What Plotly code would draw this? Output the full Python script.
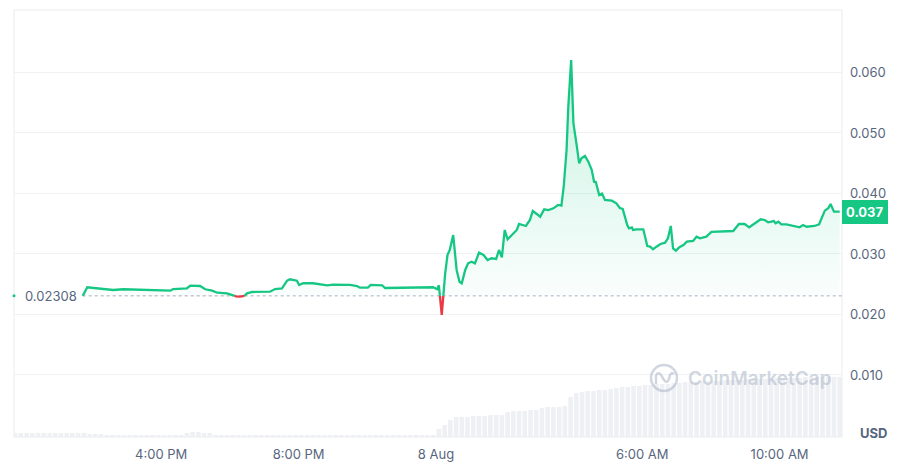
import numpy as np
import pandas as pd
import plotly.graph_objects as go

# ---------------- data ----------------
price_times = [
    "2024-08-07 13:43", "2024-08-07 13:51", "2024-08-07 14:36", "2024-08-07 14:54", "2024-08-07 16:16",
    "2024-08-07 16:21", "2024-08-07 16:45", "2024-08-07 16:51", "2024-08-07 17:08", "2024-08-07 17:17",
    "2024-08-07 17:29", "2024-08-07 17:38", "2024-08-07 17:55", "2024-08-07 18:06", "2024-08-07 18:11",
    "2024-08-07 18:18", "2024-08-07 18:25", "2024-08-07 18:30", "2024-08-07 18:39", "2024-08-07 18:53",
    "2024-08-07 19:10", "2024-08-07 19:19", "2024-08-07 19:31", "2024-08-07 19:40", "2024-08-07 19:45",
    "2024-08-07 19:57", "2024-08-07 20:01", "2024-08-07 20:08", "2024-08-07 20:25", "2024-08-07 20:50",
    "2024-08-07 21:00", "2024-08-07 21:30", "2024-08-07 21:42", "2024-08-07 21:47", "2024-08-07 22:01",
    "2024-08-07 22:06", "2024-08-07 22:26", "2024-08-07 22:31", "2024-08-07 22:52", "2024-08-07 23:55",
    "2024-08-08 00:02", "2024-08-08 00:05", "2024-08-08 00:10", "2024-08-08 00:16", "2024-08-08 00:20",
    "2024-08-08 00:24", "2024-08-08 00:30", "2024-08-08 00:36", "2024-08-08 00:41", "2024-08-08 00:45",
    "2024-08-08 00:51", "2024-08-08 00:56", "2024-08-08 01:02", "2024-08-08 01:08", "2024-08-08 01:15",
    "2024-08-08 01:23", "2024-08-08 01:30", "2024-08-08 01:37", "2024-08-08 01:45", "2024-08-08 01:50",
    "2024-08-08 01:55", "2024-08-08 02:00", "2024-08-08 02:05", "2024-08-08 02:12", "2024-08-08 02:21",
    "2024-08-08 02:25", "2024-08-08 02:32", "2024-08-08 02:37", "2024-08-08 02:44", "2024-08-08 02:49",
    "2024-08-08 02:56", "2024-08-08 03:02", "2024-08-08 03:09", "2024-08-08 03:16", "2024-08-08 03:25",
    "2024-08-08 03:33", "2024-08-08 03:39", "2024-08-08 03:43", "2024-08-08 03:48", "2024-08-08 03:51",
    "2024-08-08 03:56", "2024-08-08 04:00", "2024-08-08 04:06", "2024-08-08 04:10", "2024-08-08 04:14",
    "2024-08-08 04:20", "2024-08-08 04:26", "2024-08-08 04:32", "2024-08-08 04:36", "2024-08-08 04:39",
    "2024-08-08 04:45", "2024-08-08 04:50", "2024-08-08 04:55", "2024-08-08 05:07", "2024-08-08 05:15",
    "2024-08-08 05:21", "2024-08-08 05:26", "2024-08-08 05:34", "2024-08-08 05:37", "2024-08-08 05:42",
    "2024-08-08 05:44", "2024-08-08 05:50", "2024-08-08 06:02", "2024-08-08 06:09", "2024-08-08 06:14",
    "2024-08-08 06:19", "2024-08-08 06:25", "2024-08-08 06:32", "2024-08-08 06:40", "2024-08-08 06:45",
    "2024-08-08 06:50", "2024-08-08 06:54", "2024-08-08 06:59", "2024-08-08 07:05", "2024-08-08 07:12",
    "2024-08-08 07:18", "2024-08-08 07:29", "2024-08-08 07:35", "2024-08-08 07:41", "2024-08-08 07:52",
    "2024-08-08 08:01", "2024-08-08 08:21", "2024-08-08 08:39", "2024-08-08 08:49", "2024-08-08 08:59",
    "2024-08-08 09:07", "2024-08-08 09:17", "2024-08-08 09:27", "2024-08-08 09:34", "2024-08-08 09:40",
    "2024-08-08 09:50", "2024-08-08 09:53", "2024-08-08 09:58", "2024-08-08 10:03", "2024-08-08 10:12",
    "2024-08-08 10:30", "2024-08-08 10:35", "2024-08-08 10:41", "2024-08-08 10:47", "2024-08-08 11:01",
    "2024-08-08 11:09", "2024-08-08 11:19", "2024-08-08 11:25", "2024-08-08 11:29", "2024-08-08 11:35",
    "2024-08-08 11:45",
]
price_values = [
    0.02308, 0.02450, 0.02405, 0.02417, 0.02393,
    0.02421, 0.02433, 0.02476, 0.02471, 0.02417,
    0.02393, 0.02360, 0.02350, 0.02316, 0.02300,
    0.02295, 0.02305, 0.02350, 0.02372, 0.02372,
    0.02377, 0.02421, 0.02433, 0.02559, 0.02582,
    0.02559, 0.02488, 0.02516, 0.02516, 0.02483,
    0.02493, 0.02488, 0.02471, 0.02443, 0.02443,
    0.02488, 0.02483, 0.02438, 0.02443, 0.02450,
    0.02417, 0.02483, 0.01992, 0.02681, 0.02983,
    0.03066, 0.03314, 0.02736, 0.02542, 0.02516,
    0.02736, 0.02846, 0.02873, 0.02846, 0.03021,
    0.02983, 0.02901, 0.02929, 0.02917, 0.03066,
    0.02945, 0.03397, 0.03243, 0.03314, 0.03397,
    0.03496, 0.03479, 0.03463, 0.03562, 0.03711,
    0.03661, 0.03617, 0.03739, 0.03727, 0.03755,
    0.03810, 0.03798, 0.04112, 0.04719, 0.05435,
    0.06207, 0.05160, 0.04774, 0.04499, 0.04582,
    0.04620, 0.04526, 0.04388, 0.04195, 0.04190,
    0.03975, 0.04000, 0.03893, 0.03881, 0.03838,
    0.03760, 0.03744, 0.03479, 0.03425, 0.03441,
    0.03397, 0.03408, 0.03408, 0.03132, 0.03121,
    0.03078, 0.03121, 0.03165, 0.03187, 0.03260,
    0.03463, 0.03094, 0.03055, 0.03111, 0.03149,
    0.03203, 0.03215, 0.03286, 0.03260, 0.03286,
    0.03364, 0.03369, 0.03380, 0.03496, 0.03496,
    0.03441, 0.03507, 0.03574, 0.03562, 0.03524,
    0.03545, 0.03507, 0.03534, 0.03491, 0.03491,
    0.03451, 0.03441, 0.03479, 0.03451, 0.03463,
    0.03491, 0.03716, 0.03755, 0.03826, 0.03699,
    0.03699,
]
base_price = 0.02308
last_price_label = "0.037"
base_label = "0.02308"

# volume bars every 10 minutes starting 2024-08-07 11:45 (relative units)
volume_start = "2024-08-07 11:45"
volume_values = [
    4, 4, 4, 4, 4, 4, 4, 4, 4, 4, 4, 4, 4,
    3, 3, 3,
    2, 2, 2, 2, 2, 2, 2, 2, 2, 2, 2, 2, 2, 2,
    4, 5, 5, 4, 4,
    2, 2, 2, 2, 2, 2, 2, 2, 2, 2, 2, 2, 2, 2, 2, 2, 2, 2, 2, 2,
    2, 2, 2, 2, 2, 2, 2, 2, 2, 2, 2, 2, 2, 2, 2, 2, 2, 2, 2,
    8, 12, 17, 20, 20, 20, 21, 21, 21, 22, 22, 22,
    25, 26, 26, 26, 27, 27, 29, 30, 30, 30, 31, 40, 44,
    45, 46, 46, 47, 47, 48, 49, 50, 50, 51, 51,
    52, 52, 53, 53, 53, 54, 54, 55, 55, 55, 56, 56, 56, 56, 57, 57,
    57, 57, 58, 58, 58, 58, 58, 59, 59, 59, 59, 59, 60, 60, 60, 60, 60, 60, 60,
]

x_range = ["2024-08-07 11:43", "2024-08-08 11:49"]
x_tickvals = ["2024-08-07 16:00", "2024-08-07 20:00", "2024-08-08 00:00", "2024-08-08 06:00", "2024-08-08 10:00"]
x_ticktext = ["4:00 PM", "8:00 PM", "8 Aug", "6:00 AM", "10:00 AM"]
y_tickvals = [0.010, 0.020, 0.030, 0.040, 0.050, 0.060]
y_ticktext = ["0.010", "0.020", "0.030", "0.040", "0.050", "0.060"]

GREEN = "#16c784"
RED = "#ea3943"
TXT = "#58667e"
GRID = "#eff2f5"
FONT = "Inter, Roboto, sans-serif"

# ---------- split line into above/below baseline (insert crossings) ----------
t_num = pd.to_datetime(pd.Series(price_times)).astype("int64").to_numpy().astype(float)
vals = np.array(price_values)
aug_t, aug_v = [t_num[0]], [vals[0]]
for i in range(1, len(vals)):
    a, b = vals[i - 1] - base_price, vals[i] - base_price
    if a * b < 0:
        frac = a / (a - b)
        aug_t.append(t_num[i - 1] + frac * (t_num[i] - t_num[i - 1]))
        aug_v.append(base_price)
    aug_t.append(t_num[i])
    aug_v.append(vals[i])
aug_t = pd.to_datetime(np.array(aug_t).astype("int64"))
aug_v = np.array(aug_v)

above_line = [v if v >= base_price - 1e-12 else None for v in aug_v]
below_line = [v if v <= base_price + 1e-12 else None for v in aug_v]
above_fill = np.maximum(aug_v, base_price)
below_fill = np.minimum(aug_v, base_price)
base_arr = np.full(len(aug_v), base_price)

vol_times = pd.date_range(volume_start, periods=len(volume_values), freq="10min")

fig = go.Figure()

# volume bars on hidden secondary axis
fig.add_trace(go.Bar(x=vol_times, y=volume_values, yaxis="y2",
                     marker=dict(color="#eef0f4", line=dict(width=0)),
                     hoverinfo="skip", showlegend=False))

# fills
fig.add_trace(go.Scatter(x=aug_t, y=base_arr, mode="lines", line=dict(width=0),
                         hoverinfo="skip", showlegend=False))
fig.add_trace(go.Scatter(x=aug_t, y=above_fill, mode="lines", line=dict(width=0),
                         fill="tonexty",
                         fillgradient=dict(type="vertical",
                                           colorscale=[[0, "rgba(22,199,132,0.02)"],
                                                       [1, "rgba(22,199,132,0.24)"]]),
                         hoverinfo="skip", showlegend=False))
fig.add_trace(go.Scatter(x=aug_t, y=base_arr, mode="lines", line=dict(width=0),
                         hoverinfo="skip", showlegend=False))
fig.add_trace(go.Scatter(x=aug_t, y=below_fill, mode="lines", line=dict(width=0),
                         fill="tonexty", fillcolor="rgba(234,57,67,0.12)",
                         hoverinfo="skip", showlegend=False))

# lines
fig.add_trace(go.Scatter(x=aug_t, y=above_line, mode="lines", connectgaps=False,
                         line=dict(color=GREEN, width=2.3), showlegend=False))
fig.add_trace(go.Scatter(x=aug_t, y=below_line, mode="lines", connectgaps=False,
                         line=dict(color=RED, width=2.3), showlegend=False))

# small start marker at left edge
fig.add_trace(go.Scatter(x=[x_range[0]], y=[base_price], mode="markers",
                         marker=dict(color=GREEN, size=3), cliponaxis=False,
                         hoverinfo="skip", showlegend=False))

# dotted baseline
fig.add_shape(type="line", xref="x", yref="y", x0=price_times[0], x1=x_range[1],
              y0=base_price, y1=base_price, line=dict(color="#a6b0c3", width=1, dash="dot"),
              layer="below")

# frame
fig.add_shape(type="rect", xref="paper", yref="paper", x0=0, x1=1, y0=0, y1=1,
              line=dict(color="#e9ecf0", width=1), layer="below")

# watermark
WM = "rgba(170,180,198,0.55)"
fig.add_shape(type="circle", xref="paper", yref="paper", xsizemode="pixel", ysizemode="pixel",
              xanchor=(664 - 14) / 828, yanchor=(437 - 378) / 427,
              x0=-13, x1=13, y0=-13, y1=13, line=dict(color=WM, width=2.5))
fig.add_shape(type="path", xref="paper", yref="paper", xsizemode="pixel", ysizemode="pixel",
              xanchor=(664 - 14) / 828, yanchor=(437 - 378) / 427,
              path="M -8,-6 L -8,2 Q -6,7 -3,3 L 0,-2 Q 3,-6 5,-1 L 6,3 Q 8,6 10,4",
              line=dict(color=WM, width=2.5))
fig.add_annotation(xref="paper", yref="paper", x=(686 - 14) / 828, y=(437 - 378) / 427,
                   xanchor="left", yanchor="middle", showarrow=False,
                   text="CoinMarketCap",
                   font=dict(family=FONT, size=19, color=WM, weight=600))

# baseline label
fig.add_annotation(x=price_times[0], y=base_price, xref="x", yref="y",
                   xanchor="right", yanchor="middle", xshift=-4, showarrow=False,
                   text=base_label, font=dict(family=FONT, size=13, color=TXT))

# last price tag
fig.add_annotation(xref="paper", yref="y", x=1, y=price_values[-1], xanchor="left",
                   yanchor="middle", showarrow=False, text="<b>" + last_price_label + "</b>",
                   font=dict(family=FONT, size=13, color="white"),
                   bgcolor=GREEN, borderpad=4, bordercolor=GREEN, borderwidth=0)

# USD label
fig.add_annotation(xref="paper", yref="paper", x=1, y=(437 - 433) / 427, xanchor="left",
                   yanchor="middle", xshift=16, showarrow=False, text="<b>USD</b>",
                   font=dict(family=FONT, size=13, color=TXT))

fig.update_layout(
    width=897, height=476,
    margin=dict(l=14, r=55, t=10, b=39),
    paper_bgcolor="white", plot_bgcolor="white",
    font=dict(family=FONT, size=13, color=TXT),
    bargap=0.2,
    xaxis=dict(type="date", range=x_range, tickvals=x_tickvals, ticktext=x_ticktext,
               showgrid=False, zeroline=False, showline=False, ticks="",
               ticklabelstandoff=8, tickfont=dict(family=FONT, size=13, color=TXT)),
    yaxis=dict(side="right", range=[-0.00025, 0.07033], tickvals=y_tickvals, ticktext=y_ticktext,
               showgrid=True, gridcolor=GRID, gridwidth=1, zeroline=False, showline=False,
               ticks="", ticklabelstandoff=7, tickfont=dict(family=FONT, size=13, color=TXT)),
    yaxis2=dict(overlaying="y", range=[0, 427], visible=False, showgrid=False),
    showlegend=False,
)

fig.write_html("out.html")
